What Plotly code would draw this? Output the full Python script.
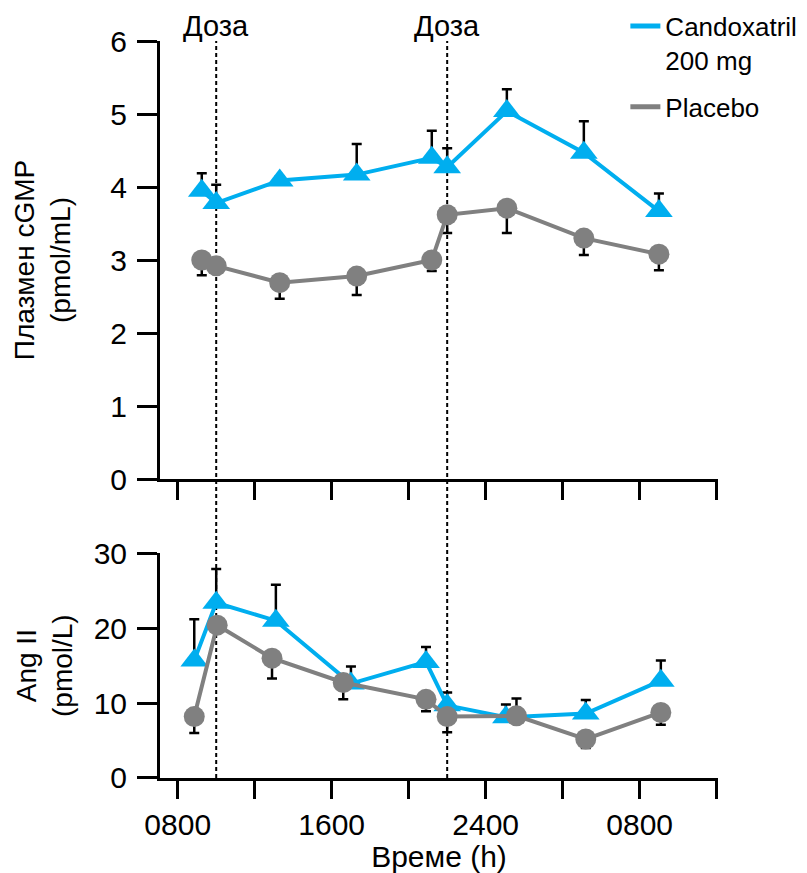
import plotly.graph_objects as go

# ---------------- data ----------------
# time in hours (8 = 0800, 24 = 2400, 32 = 0800 next day)
time_cgmp = [9.25, 10.0, 13.3, 17.3, 21.2, 22.0, 25.1, 29.1, 33.0]
cand_cgmp = [3.95, 3.78, 4.09, 4.17, 4.40, 4.27, 5.04, 4.47, 3.67]
cand_cgmp_err = [0.24, 0.25, 0.05, 0.42, 0.37, 0.26, 0.30, 0.43, 0.24]
plac_cgmp = [3.00, 2.92, 2.69, 2.78, 3.00, 3.62, 3.71, 3.30, 3.08]
plac_cgmp_err = [0.21, 0.05, 0.22, 0.26, 0.15, 0.25, 0.34, 0.23, 0.22]

time_ang_cand = [8.86, 10.0, 13.1, 17.0, 20.9, 22.0, 25.05, 29.2, 33.1]
cand_ang = [15.7, 23.4, 21.0, 12.6, 15.5, 9.7, 8.1, 8.6, 13.0]
cand_ang_err = [5.5, 4.5, 4.8, 2.3, 2.0, 1.7, 1.7, 1.8, 2.7]

time_ang_plac = [8.86, 10.05, 12.9, 16.6, 20.9, 22.0, 25.6, 29.2, 33.1]
plac_ang = [8.2, 20.4, 16.0, 12.75, 10.5, 8.2, 8.3, 5.2, 8.75]
plac_ang_err_down = [2.2, 0.3, 2.7, 2.25, 1.6, 2.1, 0.0, 1.2, 1.65]
plac_ang_err_up = [0.0, 0.0, 0.0, 0.0, 0.0, 0.0, 2.3, 0.0, 0.0]

dose_times = [10, 22]
dose_label = "Доза"

x_tickvals = [8, 12, 16, 20, 24, 28, 32, 36]
x_ticktext = ["0800", "", "1600", "", "2400", "", "0800", ""]

cand_name = "Candoxatril<br>200 mg"
plac_name = "Placebo"

# ---------------- style ----------------
BLUE = "#00AEEF"
GREY = "#808080"
FONT = "Liberation Sans, Arial, Helvetica, sans-serif"

fig = go.Figure()

def err(arr_up, arr_down):
    return dict(type="data", symmetric=False, array=arr_up, arrayminus=arr_down,
                color="black", thickness=2.5, width=5)

zeros = [0] * 9

# upper panel (cGMP)
fig.add_trace(go.Scatter(x=time_cgmp, y=cand_cgmp, mode="lines+markers",
                         line=dict(color=BLUE, width=4),
                         marker=dict(symbol="triangle-up", size=24, color=BLUE),
                         error_y=err(cand_cgmp_err, zeros),
                         xaxis="x2", yaxis="y2", showlegend=False))
fig.add_trace(go.Scatter(x=time_cgmp, y=plac_cgmp, mode="lines+markers",
                         line=dict(color=GREY, width=4),
                         marker=dict(symbol="circle", size=21, color=GREY),
                         error_y=err(zeros, plac_cgmp_err),
                         xaxis="x2", yaxis="y2", showlegend=False))

# lower panel (Ang II)
fig.add_trace(go.Scatter(x=time_ang_cand, y=cand_ang, mode="lines+markers",
                         line=dict(color=BLUE, width=4),
                         marker=dict(symbol="triangle-up", size=24, color=BLUE),
                         error_y=err(cand_ang_err, zeros),
                         xaxis="x", yaxis="y", showlegend=False))
fig.add_trace(go.Scatter(x=time_ang_plac, y=plac_ang, mode="lines+markers",
                         line=dict(color=GREY, width=4),
                         marker=dict(symbol="circle", size=21, color=GREY),
                         error_y=err(plac_ang_err_up, plac_ang_err_down),
                         xaxis="x", yaxis="y", showlegend=False))

# legend entries (line only)
fig.add_trace(go.Scatter(x=[None], y=[None], mode="lines", name=cand_name,
                         legendgroup="cand",
                         line=dict(color=BLUE, width=5), xaxis="x2", yaxis="y2"))
fig.add_trace(go.Scatter(x=[None], y=[None], mode="lines", name=plac_name,
                         legendgroup="plac",
                         line=dict(color=GREY, width=5), xaxis="x2", yaxis="y2"))

# dose lines and labels
for t in dose_times:
    fig.add_shape(type="line", xref="x", yref="paper", x0=t, x1=t, y0=0, y1=1.0,
                  line=dict(color="black", width=2, dash="4px,3px"), layer="below")
    fig.add_annotation(x=t, xref="x", y=1.0204, yref="paper", text=dose_label,
                       showarrow=False, yanchor="middle", xanchor="center",
                       font=dict(size=29, color="black", family=FONT))

axis_common = dict(showline=True, linecolor="black", linewidth=3, ticks="outside",
                   tickwidth=3, tickcolor="black", showgrid=False, zeroline=False,
                   automargin=False,
                   tickfont=dict(size=30, color="black", family=FONT))

XR = [7.08, 36.07]
# the page adds an 8 px body margin, so the figure is 8 px smaller each way
fig.update_layout(
    width=799, height=865,
    paper_bgcolor="white", plot_bgcolor="white",
    margin=dict(l=152, r=89, t=33, b=95, autoexpand=False),
    font=dict(family=FONT, color="black", size=28),
    xaxis=dict(domain=[0, 1], anchor="y", range=XR, tickvals=x_tickvals,
               ticktext=x_ticktext, ticklen=18, ticklabelstandoff=0,
               title=dict(text="Време (h)", font=dict(size=30), standoff=4),
               **axis_common),
    xaxis2=dict(domain=[0, 1], anchor="y2", range=XR, tickvals=x_tickvals,
                showticklabels=False, ticklen=18, matches="x", **axis_common),
    yaxis=dict(domain=[0, 0.3049], anchor="x", range=[0, 30],
               tickvals=[0, 10, 20, 30], ticklen=20, ticklabelstandoff=4,
               title=dict(text="Ang II<br>(pmol/L)", font=dict(size=28), standoff=13),
               **axis_common),
    yaxis2=dict(domain=[0.4057, 1], anchor="x2", range=[0, 6],
                tickvals=[0, 1, 2, 3, 4, 5, 6], ticklen=20, ticklabelstandoff=4,
                title=dict(text="Плазмен cGMP<br>(pmol/mL)", font=dict(size=28), standoff=32),
                **axis_common),
    legend=dict(x=0.834, y=1.052, xanchor="left", yanchor="top",
                font=dict(size=26, color="black", family=FONT),
                bgcolor="rgba(0,0,0,0)", valign="top", tracegroupgap=10,
                itemwidth=30),
)

fig.write_html("out.html")
